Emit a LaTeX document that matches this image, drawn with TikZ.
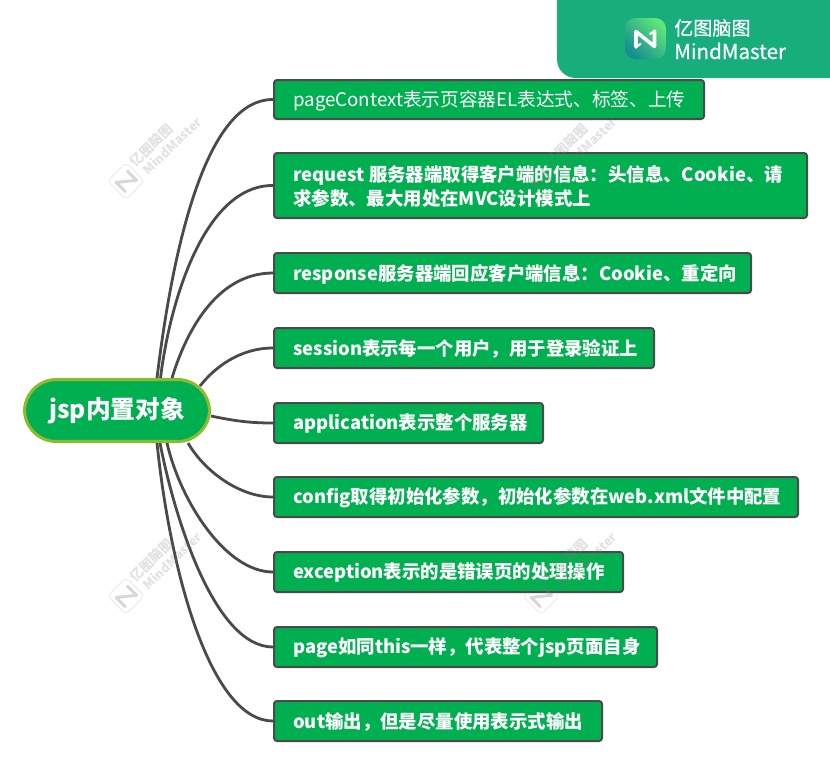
\documentclass[tikz,border=0pt]{standalone}
\usepackage{fontspec}
\setmainfont{Noto Sans CJK SC}
\newfontfamily\logofont[FakeBold=0.6]{Noto Sans CJK SC}
\usetikzlibrary{calc}
\definecolor{boxgreen}{HTML}{00AF50}
\definecolor{edgegrey}{HTML}{4A4A4A}
\definecolor{rootedge}{HTML}{8DBB2E}
\definecolor{banner}{HTML}{17AE7B}
\definecolor{wmgrey}{HTML}{7A7A7A}
\definecolor{logoa}{HTML}{5FE57A}
\definecolor{logob}{HTML}{158F8F}
\tikzset{
  x=0.75pt,y=-0.75pt,
  leaf/.style={draw=edgegrey,line width=1.5pt,fill=boxgreen,rounded corners=2.2pt,anchor=north west,inner sep=0pt,text=white},
  leaftext/.style={anchor=west,text=white,inner sep=0pt,align=left,font=\fontsize{13.8}{18}\selectfont},
  rootnode/.style={draw=rootedge,line width=2.3pt,fill=boxgreen,rounded corners=24pt,inner sep=0pt,text=white},
  conn/.style={draw=edgegrey,line width=2.1pt},
  wm/.style={text=wmgrey,text opacity=0.22,font=\fontsize{9.4}{12}\selectfont\bfseries,rotate=44,inner sep=0pt,anchor=west},
  wmcjk/.style={wm,font=\fontsize{10}{12}\selectfont\bfseries},
  logotext/.style={text=white,anchor=west,inner sep=0pt}
}
\newcommand{\leafbox}[6]{%
  \node[leaf,minimum width=#4*0.75pt-1.5pt,minimum height=#5*0.75pt-1.5pt] (#1) at (#2,#3) {};
  \node[leaftext] (#1t) at ($(#1.west)+(20,1)$) {#6};
}
\newcommand{\wmark}[2]{%
  \begin{scope}[shift={(#1,#2)}]
    \begin{scope}[rotate=45]
      \draw[wmgrey,draw opacity=0.14,line width=0.7pt,rounded corners=3pt] (-13,-13) rectangle (13,13);
      \draw[wmgrey,draw opacity=0.3,line width=2.2pt,line join=round,line cap=round] (-8,7) -- (-8,-6) -- (8,7) -- (8,-6);
    \end{scope}
    \node[wmcjk] at (6,-17) {亿图脑图};
    \node[wm] at (19,-9) {MindMaster};
  \end{scope}
}
\begin{document}
\begin{tikzpicture}
\useasboundingbox (0,0) rectangle (830,764);
% banner
\begin{scope}
  \clip (0,0) rectangle (830,764);
  \fill[banner,rounded corners=14pt] (557,-30) rectangle (860,78);
\end{scope}
\begin{scope}
  \path[clip,rounded corners=8pt] (625,18) rectangle (666,59);
  \shade[left color=logoa,right color=logob,shading angle=-45] (625,18) rectangle (666,59);
\end{scope}
\draw[white,line width=2.7pt,line join=round,line cap=round] (636,47) -- (636,31.5) -- (654.5,46.5) -- (654.5,31);
\draw[white,line width=1.6pt,line cap=round] (636,47) -- (640.5,44);
\draw[white,line width=1.6pt,line cap=round] (654.5,31) -- (650,34);
\node[logotext,font=\logofont\fontsize{14.3}{15}\selectfont] (lg1) at (674,28) {亿图脑图};
\node[logotext,font=\logofont\fontsize{15.4}{16}\selectfont] (lg2) at (674,51) {MindMaster};
% nodes
\node[rootnode,minimum width=185*0.75pt,minimum height=62*0.75pt] (root) at (117,410.5) {};
\leafbox{n1}{273}{79}{432}{41}{\fontsize{14}{18}\selectfont pageContext表示页容器EL表达式、标签、上传}
\leafbox{n2}{273}{152}{535}{67}{\textbf{request 服务器端取得客户端的信息：头信息、Cookie、请}\\\textbf{求参数、最大用处在MVC设计模式上}}
\leafbox{n3}{273}{252}{479}{42}{\textbf{response服务器端回应客户端信息：Cookie、重定向}}
\leafbox{n4}{273}{327}{382}{42}{\textbf{session表示每一个用户，用于登录验证上}}
\leafbox{n5}{273}{402}{271}{42}{\textbf{application表示整个服务器}}
\leafbox{n6}{273}{476}{526}{42}{\textbf{config取得初始化参数，初始化参数在web.xml文件中配置}}
\leafbox{n7}{273}{551}{351}{42}{\textbf{exception表示的是错误页的处理操作}}
\leafbox{n8}{273}{626}{385}{42}{\textbf{page如同this一样，代表整个jsp页面自身}}
\leafbox{n9}{273}{700}{330}{42}{\textbf{out输出，但是尽量使用表示式输出}}
\node[text=white,font=\fontsize{18.5}{20}\selectfont\bfseries,inner sep=0pt] (roott) at (root.center) {jsp内置对象};
% connectors
\draw[conn] (157,378) .. controls (175,230) and (210,99) .. (n1.west);
\draw[conn] (160.5,378) .. controls (170,300) and (205,185) .. (n2.west);
\draw[conn] (172,378) .. controls (185,335) and (215,273) .. (n3.west);
\draw[conn] (200,386) .. controls (215,367) and (240,348) .. (n4.west);
\draw[conn] (211,416) .. controls (235,421) and (250,423) .. (n5.west);
\draw[conn] (188,443) .. controls (205,472) and (240,497) .. (n6.west);
\draw[conn] (167,443) .. controls (180,500) and (225,572) .. (n7.west);
\draw[conn] (160,443) .. controls (175,520) and (215,647) .. (n8.west);
\draw[conn] (157,443) .. controls (170,570) and (210,721) .. (n9.west);
% watermarks (drawn over everything)
\wmark{126}{181}
\wmark{541}{181}
\wmark{126}{596}
\wmark{541}{596}
\end{tikzpicture}
\end{document}
